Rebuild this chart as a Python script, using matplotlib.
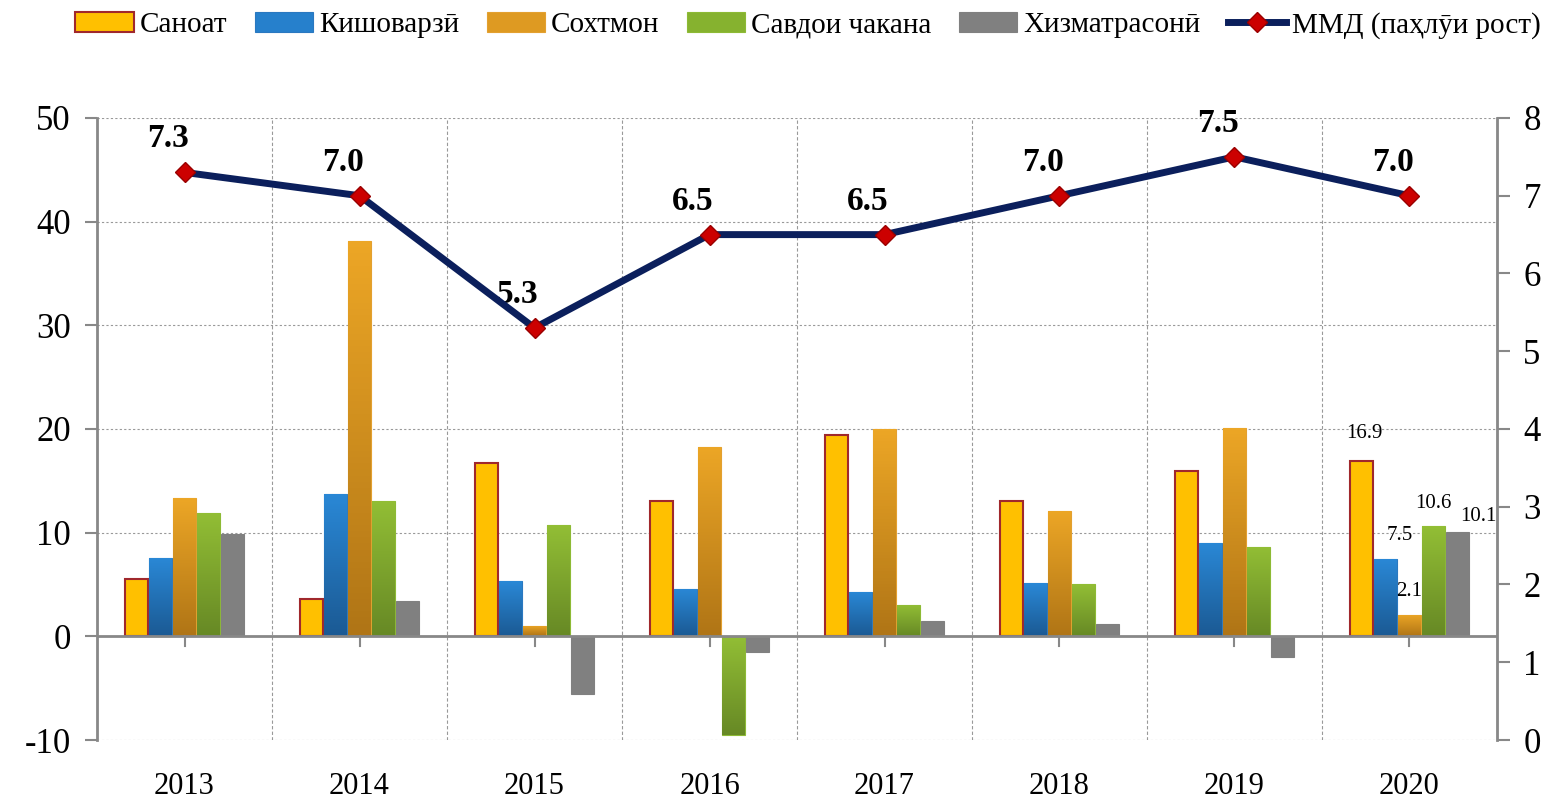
import numpy as np
import matplotlib.pyplot as plt
from matplotlib.lines import Line2D
from matplotlib.patches import Patch
from matplotlib.colors import LinearSegmentedColormap

plt.rcParams['font.family'] = ['Liberation Serif', 'DejaVu Serif']
plt.rcParams['axes.unicode_minus'] = False

years = ['2013', '2014', '2015', '2016', '2017', '2018', '2019', '2020']
series_names = ['Саноат', 'Кишоварзӣ', 'Сохтмон', 'Савдои чакана', 'Хизматрасонӣ']
sanoat = [5.5, 3.6, 16.7, 13.1, 19.4, 13.1, 15.9, 16.9]
kishovarzi = [7.6, 13.7, 5.3, 4.6, 4.3, 5.1, 9.0, 7.5]
sokhtmon = [13.3, 38.1, 1.0, 18.3, 20.0, 12.1, 20.1, 2.1]
savdo = [11.9, 13.1, 10.7, -9.5, 3.0, 5.0, 8.6, 10.6]
khizmat = [9.9, 3.4, -5.6, -1.5, 1.5, 1.2, -2.0, 10.1]
gdp_name = 'ММД (паҳлӯи рост)'
gdp = [7.3, 7.0, 5.3, 6.5, 6.5, 7.0, 7.5, 7.0]

series = [sanoat, kishovarzi, sokhtmon, savdo, khizmat]
colors = ['#FFC000', '#2680CC', '#DE9A22', '#86B22F', '#808080']
edges = ['#A0282C', '#2A78C0', '#E3A030', '#8DBA35', '#808080']
# top / bottom colours for the shaded bars (None = flat fill)
grads = [None, ('#2A88D6', '#1B5A94'), ('#ECA626', '#B07516'),
         ('#92BE35', '#678925'), None]

fig = plt.figure(figsize=(15.6, 8.02), dpi=100)
ax = fig.add_axes([0.0622, 0.0773, 0.8974, 0.7756])
ax2 = ax.twinx()

x = np.arange(len(years))
width = 0.137
for i, (vals, c, ec) in enumerate(zip(series, colors, edges)):
    bars = ax.bar(x + (i - 2) * width, vals, width * 0.94, color=c, edgecolor=ec,
                  linewidth=1.5 if i == 0 else 0.8, zorder=3)
    if grads[i] is None:
        continue
    cmap = LinearSegmentedColormap.from_list('g%d' % i, [grads[i][1], grads[i][0]])
    for rect in bars:
        x0, y0 = rect.get_xy()
        w, h = rect.get_width(), rect.get_height()
        lo, hi = min(y0, y0 + h), max(y0, y0 + h)
        im = ax.imshow(np.linspace(0, 1, 64).reshape(-1, 1), cmap=cmap,
                       extent=[x0, x0 + w, lo, hi], origin='lower',
                       aspect='auto', zorder=3.1)
        im.set_clip_path(rect)

ax.set_xlim(-0.5, len(years) - 0.5)
ax.set_ylim(-10, 50)
ax.set_yticks(range(-10, 51, 10))
ax.tick_params(axis='y', labelsize=25, length=9, width=1.5, color='#888888', pad=10)
ax.set_xticks([])
for v in range(-10, 51, 10):
    if v != 0:
        ax.axhline(v, color='#999999', lw=0.8, ls=(0, (2, 2)), zorder=1)
for b in np.arange(0.5, len(years) - 0.5, 1):
    ax.axvline(b, color='#999999', lw=0.8, ls=(0, (3, 2)), zorder=1)
ax.axhline(0, color='#888888', lw=2, zorder=4)
for xi in x:
    ax.plot([xi, xi], [0, -0.9], color='#888888', lw=1.5, zorder=4, clip_on=False)
    ax.text(xi, -13.1, years[xi], ha='center', va='top', fontsize=22)

for sp in ['top', 'bottom']:
    ax.spines[sp].set_visible(False)
    ax2.spines[sp].set_visible(False)
ax.spines['left'].set_color('#888888')
ax.spines['left'].set_linewidth(2)
ax2.spines['right'].set_color('#888888')
ax2.spines['right'].set_linewidth(2)
ax2.spines['left'].set_visible(False)

ax2.plot(x, gdp, color='#0B1F5C', lw=5, marker='D', markersize=10,
         markerfacecolor='#CC0000', markeredgecolor='#990000', zorder=5)
ax2.set_ylim(0, 8)
ax2.set_yticks(range(0, 9))
ax2.tick_params(axis='y', labelsize=25, length=9, width=1.5, color='#888888', pad=10)
for xi, v in zip(x, gdp):
    ax2.annotate(f'{v:.1f}', (xi, v), xytext=(-12, 13), textcoords='offset points',
                 ha='center', va='bottom', fontsize=24, fontweight='bold')

# labels for 2020 bars
offsets = [(2, 13), (10, 10), (0, 10), (0, 10), (15, 4)]
for i, vals in enumerate(series):
    ax.annotate(f'{vals[-1]:.1f}', (x[-1] + (i - 2) * width, vals[-1]),
                xytext=offsets[i], textcoords='offset points',
                ha='center', va='bottom', fontsize=15)

handles = [Patch(facecolor=c, edgecolor=ec, linewidth=1.5 if i == 0 else 0.8)
           for i, (c, ec) in enumerate(zip(colors, edges))]
handles.append(Line2D([], [], color='#0B1F5C', lw=5, marker='D', markersize=10,
                      markerfacecolor='#CC0000', markeredgecolor='#990000'))
fig.legend(handles, series_names + [gdp_name], loc='upper center',
           bbox_to_anchor=(0.518, 1.018), ncol=6, frameon=False, fontsize=21,
           handlelength=2.0, handleheight=0.7, columnspacing=0.95, handletextpad=0.2)

fig.savefig('out.png', dpi=100)
